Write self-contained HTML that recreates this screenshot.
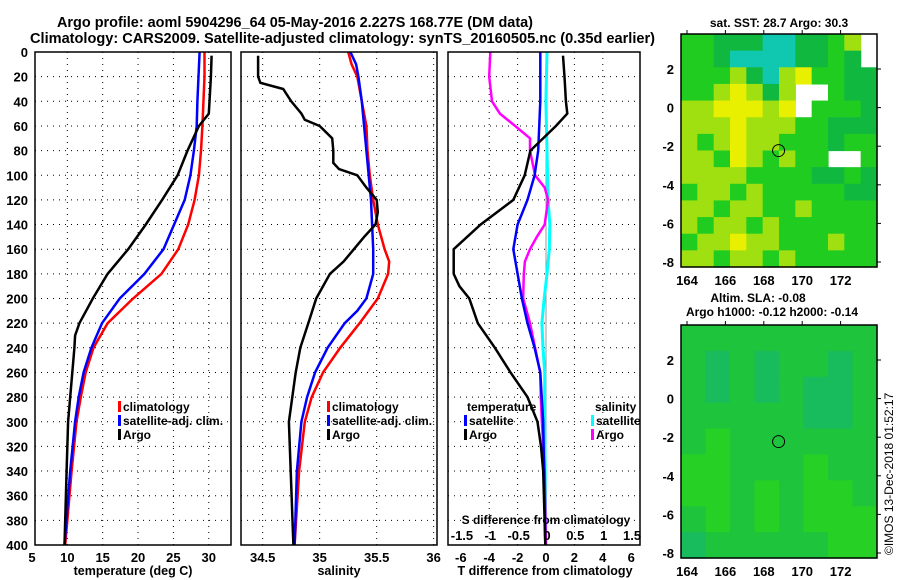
<!DOCTYPE html>
<html><head><meta charset="utf-8">
<style>
body{margin:0;background:#fff;}
svg{display:block;font-family:"Liberation Sans",sans-serif;font-weight:bold;}
</style></head>
<body>
<svg id="chart" width="900" height="580" viewBox="0 0 900 580" xmlns="http://www.w3.org/2000/svg">
<text x="57" y="27" font-size="14.5" textLength="476" lengthAdjust="spacingAndGlyphs">Argo profile: aoml 5904296_64 05-May-2016 2.227S 168.77E (DM data)</text>
<text x="30" y="43" font-size="14.5" textLength="625" lengthAdjust="spacingAndGlyphs">Climatology: CARS2009. Satellite-adjusted climatology: synTS_20160505.nc (0.35d earlier)</text>
<g id="g"></g>
<text x="779" y="27" font-size="12" text-anchor="middle">sat. SST: 28.7 Argo: 30.3</text>
<text x="758" y="302" font-size="12" text-anchor="middle">Altim. SLA: -0.08</text>
<text x="772" y="316" font-size="12" text-anchor="middle">Argo h1000: -0.12 h2000: -0.14</text>
<text transform="translate(893,555) rotate(-90)" font-size="12" font-weight="normal">©IMOS 13-Dec-2018 01:52:17</text>
</svg>
<script>
// ---------- data ----------
const depthTicks=[0,20,40,60,80,100,120,140,160,180,200,220,240,260,280,300,320,340,360,380,400];
const tempTicks=[5,10,15,20,25,30];
const salTicks=[34.5,35,35.5,36];
const salTickLabels=["34.5","35","35.5","36"];
const dTTicks=[-6,-4,-2,0,2,4,6];
const dSTicks=[-1.5,-1,-0.5,0,0.5,1,1.5];
const dSTickLabels=["-1.5","-1","-0.5","0","0.5","1","1.5"];

const climTDepth=[0,20,60,80,100,120,140,160,180,200,220,240,260,280,300,340,400];
const climT=[29.4,29.4,29.1,28.9,28.6,28.0,27.1,25.7,23.3,19.3,15.7,13.7,12.6,11.9,11.3,10.6,9.7];
const satTDepth=[0,40,60,80,100,120,140,160,180,200,220,240,260,280,300,340,400];
const satT=[28.7,28.4,28.3,27.9,27.4,26.6,25.1,23.6,20.9,17.4,14.9,13.4,12.3,11.6,11.1,10.4,9.6];
const argoTDepth=[3,20,50,60,80,100,120,140,160,180,200,220,230,240,260,300,340,400];
const argoT=[30.4,30.3,30.0,28.6,27.0,25.6,23.4,21.1,18.6,15.7,13.6,11.7,11.1,11.0,10.7,10.1,9.9,9.6];

const climSDepth=[0,10,20,40,60,80,100,120,140,160,170,180,200,220,240,260,280,300,340,400];
const climS=[35.25,35.28,35.33,35.37,35.41,35.42,35.44,35.47,35.51,35.57,35.61,35.60,35.51,35.35,35.18,35.03,34.93,34.87,34.82,34.78];
const satSDepth=[0,10,20,40,60,80,100,120,140,160,180,200,210,220,240,260,280,300,340,400];
const satS=[35.27,35.32,35.34,35.37,35.39,35.41,35.43,35.45,35.46,35.47,35.47,35.41,35.33,35.22,35.07,34.96,34.89,34.84,34.80,34.78];
const argoSDepth=[3,20,25,30,40,50,55,60,70,80,90,95,100,110,120,130,140,150,160,170,180,200,220,240,260,280,300,400];
const argoS=[34.46,34.46,34.48,34.68,34.75,34.84,34.87,35.0,35.11,35.12,35.12,35.17,35.33,35.41,35.5,35.51,35.49,35.39,35.30,35.21,35.09,34.97,34.90,34.83,34.79,34.76,34.73,34.77];

const argoDTDepth=[3,20,40,50,60,80,100,120,140,160,180,190,200,220,240,260,280,300,320,340,400];
const argoDT=[1.2,1.3,1.4,1.5,0.7,-1.1,-1.5,-2.3,-4.6,-6.5,-6.5,-6.1,-5.4,-4.8,-3.6,-2.5,-1.3,-0.6,-0.35,-0.2,-0.05];
const satDTDepth=[0,40,80,100,120,140,160,180,200,220,240,260,280,300,400];
const satDT=[-0.4,-0.4,-0.55,-0.8,-1.3,-2.0,-2.3,-2.0,-1.7,-1.3,-0.8,-0.4,-0.3,-0.2,-0.05];
const argoDSDepth=[0,20,40,50,60,70,80,100,110,120,140,150,160,170,180,200,220,240,260,280,300,340,400];
const argoDS=[-1.0,-1.02,-0.97,-0.83,-0.56,-0.3,-0.3,-0.21,-0.04,0.02,-0.04,-0.18,-0.3,-0.39,-0.41,-0.42,-0.3,-0.21,-0.12,-0.11,-0.09,-0.04,-0.02];
const satDSDepth=[0,40,80,120,140,160,180,200,220,240,260,300,400];
const satDS=[0.0,-0.02,0.0,0.02,0.05,0.04,0.0,-0.05,-0.09,-0.07,-0.04,-0.04,-0.02];

const latTicks=[2,0,-2,-4,-6,-8];
const lonTicks=[164,166,168,170,172];
// SST map: 0 teal,1 dark green,2 green,3 yellow-green,4 yellow, -1 missing
const sstGrid=[
[2,2,1,1,1,0,0,1,1,2,3,-1],
[2,2,1,0,0,0,0,1,1,2,1,-1],
[2,2,2,3,1,0,3,4,2,2,1,1],
[2,2,3,4,3,1,3,-1,-1,2,1,1],
[3,3,4,4,4,3,4,-1,2,2,2,1],
[3,3,3,4,3,3,3,2,2,1,1,1],
[3,2,3,4,3,3,2,2,2,1,2,2],
[3,3,2,4,3,2,3,2,2,-1,-1,2],
[3,3,3,3,2,2,2,2,1,1,2,1],
[2,3,3,2,3,2,2,2,2,2,1,1],
[3,3,2,3,3,2,2,3,2,2,2,2],
[3,2,3,3,2,3,2,2,2,2,2,2],
[2,3,3,4,3,3,2,2,2,3,2,2],
[3,3,2,3,3,2,3,2,2,2,2,2]];
// SLA map: 0 teal-green, 1 green, 2 bright green
const slaGrid=[
[1,1,1,1,1,1,1,1],
[1,0,1,0,1,1,0,1],
[1,0,1,0,1,0,0,1],
[1,1,1,1,1,0,0,1],
[1,2,1,1,1,1,1,1],
[2,2,1,1,1,2,1,1],
[2,2,1,2,1,2,2,1],
[1,2,1,2,1,2,2,2],
[0,1,1,1,1,1,2,2]];

// ---------- drawing ----------
const NS="http://www.w3.org/2000/svg";
const G=document.getElementById('g');
function mk(tag,attrs,parent){const e=document.createElementNS(NS,tag);for(const k in attrs)e.setAttribute(k,attrs[k]);(parent||G).appendChild(e);return e;}
const Y0=52,Y1=545;
const yD=d=>Y0+(d/400)*(Y1-Y0);
const xT=t=>32+(t-5)*7.07;
const xS=s=>241+(s-34.31)*114;
const xDT=t=>546+t*14.2;
const xDS=s=>547+s*56.7;
function frame(x0,x1,name){
  const r=mk('rect',{x:x0,y:Y0,width:x1-x0,height:Y1-Y0,fill:'none',stroke:'#000','stroke-width':1.5});
  
  
}
function hgrid(x0,x1){
  depthTicks.forEach(d=>{if(d>0&&d<400){const l=mk('line',{x1:x0,x2:x1,y1:yD(d),y2:yD(d),stroke:'#000','stroke-dasharray':'1,5'});
  
  }});
}
function vgrid(xs){xs.forEach(x=>{const l=mk('line',{x1:x,x2:x,y1:Y0,y2:Y1,stroke:'#000','stroke-dasharray':'1,5'});
  
  });}
function line(xs,ds,xf,color,name,w){
  const p=xs.map((v,i)=>xf(v).toFixed(1)+','+yD(ds[i]).toFixed(1)).join(' ');
  const e=mk('polyline',{points:p,fill:'none',stroke:color,'stroke-width':w||2.5});
  
  
}
function txt(x,y,s,size,anchor,name,color){
  const t=mk('text',{x:x,y:y,'font-size':size,'text-anchor':anchor||'start',fill:color||'#000'});
  t.textContent=s;
  
  
  return t;
}
function legend(x,y,color,label){
  const b=mk('rect',{x:x,y:y-10,width:3,height:11,fill:color});
  
  
  txt(x+5,y,label,12,'start','legend-entry');
}
// panel 1
hgrid(35,231);vgrid(tempTicks.slice(1).map(xT));
depthTicks.forEach(d=>txt(28,yD(d)+5,String(d),13,'end','depth-tick-label'));
tempTicks.forEach(t=>txt(xT(t),562,String(t),13,'middle','temp-tick-label'));
txt(133,575,'temperature (deg C)',12.5,'middle','temp-axis-title');
line(climT,climTDepth,xT,'#f00','climatology-temp-line');
line(satT,satTDepth,xT,'#00f','satellite-temp-line');
line(argoT,argoTDepth,xT,'#000','argo-temp-line');
legend(118,411,'#f00','climatology');legend(118,425,'#00f','satellite-adj. clim.');legend(118,439,'#000','Argo');
frame(35,231,'temperature-panel');
// panel 2
hgrid(241,437);vgrid(salTicks.map(xS));
salTicks.forEach((s,i)=>txt(xS(s),562,salTickLabels[i],13,'middle','salinity-tick-label'));
txt(339,575,'salinity',12.5,'middle','salinity-axis-title');
line(climS,climSDepth,xS,'#f00','climatology-salinity-line');
line(satS,satSDepth,xS,'#00f','satellite-salinity-line');
line(argoS,argoSDepth,xS,'#000','argo-salinity-line');
legend(327,411,'#f00','climatology');legend(327,425,'#00f','satellite-adj. clim.');legend(327,439,'#000','Argo');
frame(241,437,'salinity-panel');
// panel 3
hgrid(448,640);vgrid([-4,-2,2,4].map(xDT));
const z=mk('line',{x1:xDT(0),x2:xDT(0),y1:Y0,y2:Y1,stroke:'#999','stroke-width':1});


line(satDS,satDSDepth,xDS,'#0ff','satellite-salinity-diff-line',3);
line(argoDS,argoDSDepth,xDS,'#f0f','argo-salinity-diff-line');
line(satDT,satDTDepth,xDT,'#00f','satellite-temp-diff-line');
line(argoDT,argoDTDepth,xDT,'#000','argo-temp-diff-line');
txt(467,411,'temperature',12,'start','legend-title-temperature');
legend(464,425,'#00f','satellite');legend(464,439,'#000','Argo');
txt(595,411,'salinity',12,'start','legend-title-salinity');
legend(591,425,'#0ff','satellite');legend(591,439,'#f0f','Argo');
txt(546,524,'S difference from climatology',12,'middle','s-diff-axis-title');
dSTicks.forEach((s,i)=>txt(xDS(s),540,dSTickLabels[i],13,'middle','s-diff-tick-label'));
dTTicks.forEach(t=>txt(xDT(t),562,String(t),13,'middle','t-diff-tick-label'));
txt(545,575,'T difference from climatology',12.5,'middle','t-diff-axis-title');
frame(448,640,'difference-panel');

// maps
const MX0=681,MX1=877;
const lonX=l=>687+(l-164)*19.2;
function map(grid,top,colors,name){
  const rows=grid.length,cols=grid[0].length,h=233,cw=(MX1-MX0)/cols,ch=h/rows;
  grid.forEach((row,r)=>row.forEach((v,c)=>{
    if(v<0)return;
    const e=mk('rect',{x:(MX0+c*cw).toFixed(2),y:(top+r*ch).toFixed(2),width:(cw+0.6).toFixed(2),height:(ch+0.6).toFixed(2),fill:colors[v]});
    
    
  }));
  const latY=l=>top+35+(2-l)*19.3;
  latTicks.forEach(l=>{txt(MX0-7,latY(l)+5,String(l),13,'end','lat-tick-label');
    mk('line',{x1:MX1,x2:MX1+4,y1:latY(l),y2:latY(l),stroke:'#000'});});
  lonTicks.forEach(l=>{txt(lonX(l),top+h+18,String(l),13,'middle','lon-tick-label');
    mk('line',{x1:lonX(l),x2:lonX(l),y1:top,y2:top-4,stroke:'#000'});});
  const c=mk('circle',{cx:lonX(168.77),cy:latY(-2.227),r:6,fill:'none',stroke:'#000','stroke-width':1});
  
  
  const f=mk('rect',{x:MX0,y:top,width:MX1-MX0,height:h,fill:'none',stroke:'#000','stroke-width':1.5});
  
  
}
map(sstGrid,34,['#10c8b0','#10b840','#20cc20','#a0e010','#e8f000'],'sst-map');
map(slaGrid,325,['#18bc5c','#1ec43c','#26d024'],'sla-map');
</script>
</body></html>
